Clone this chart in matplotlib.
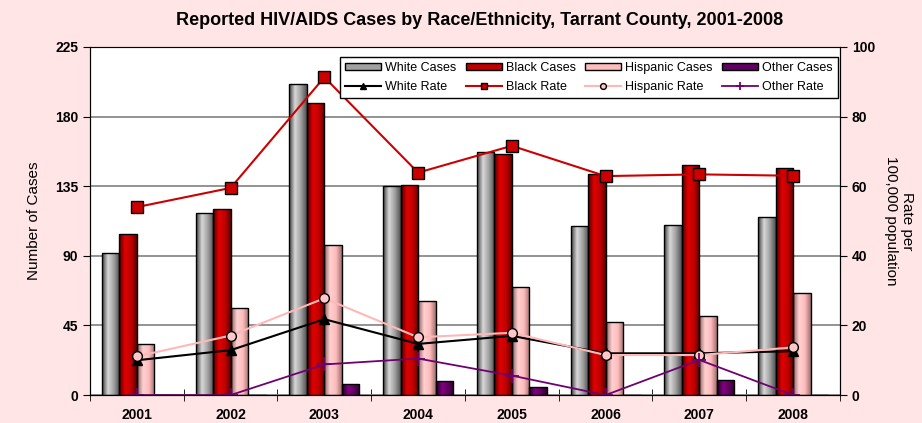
import matplotlib.pyplot as plt
import numpy as np
from matplotlib.colors import LinearSegmentedColormap
from matplotlib.patches import Patch

plt.rcParams["font.family"] = ["Liberation Sans", "DejaVu Sans"]

years = ["2001", "2002", "2003", "2004", "2005", "2006", "2007", "2008"]

white_cases = [92, 118, 201, 135, 157, 109, 110, 115]
black_cases = [104, 120, 189, 136, 156, 143, 149, 147]
hispanic_cases = [33, 56, 97, 61, 70, 47, 51, 66]
other_cases = [0, 0, 7, 9, 5, 0, 10, 0]

white_rate = [10.0, 12.9, 21.8, 14.7, 17.0, 12.0, 12.0, 12.6]
black_rate = [54.0, 59.5, 91.3, 63.9, 71.6, 62.9, 63.4, 63.0]
hispanic_rate = [11.1, 17.1, 27.8, 16.6, 17.9, 11.5, 11.5, 13.7]
other_rate = [0, 0, 8.8, 10.5, 5.6, 0, 10.1, 0]

# bar gradients: dark edge -> light -> dark edge
bar_styles = [
    ("White Cases", white_cases, ["#404040", "#d8d8d8", "#a0a0a0", "#505050"]),
    ("Black Cases", black_cases, ["#500000", "#e00000", "#c00000", "#600000"]),
    ("Hispanic Cases", hispanic_cases, ["#906060", "#ffd0d0", "#ffbcbc", "#a07070"]),
    ("Other Cases", other_cases, ["#200020", "#800080", "#600060", "#300030"]),
]

fig = plt.figure(figsize=(9.22, 4.23), dpi=100, facecolor="#ffe5e5")
ax = fig.add_axes([0.0976, 0.066, 0.8134, 0.823])
ax.set_facecolor("white")

x = np.arange(len(years))
width = 0.187
grad = np.linspace(0, 1, 64).reshape(1, -1)

legend_bars = []
for i, (label, vals, cols) in enumerate(bar_styles):
    cmap = LinearSegmentedColormap.from_list(label, cols)
    offset = (i - 1.5) * width
    bars = ax.bar(x + offset, vals, width, facecolor="none", edgecolor="black",
                  linewidth=1.0, zorder=3)
    for b in bars:
        if b.get_height() <= 0:
            continue
        im = ax.imshow(grad, extent=[b.get_x(), b.get_x() + b.get_width(), 0, b.get_height()],
                       aspect="auto", cmap=cmap, zorder=2, interpolation="bilinear")
        im.set_clip_path(b)
    legend_bars.append(Patch(facecolor=cols[2], edgecolor="black", label=label))

ax.set_xlim(-0.5, len(years) - 0.5)
ax.set_ylim(0, 225)
ax.set_yticks(np.arange(0, 226, 45))
ax.set_xticks(x)
ax.set_xticklabels(years, fontweight="bold", fontsize=10)
ax.set_xticks(np.arange(-0.5, len(years), 1), minor=True)
ax.tick_params(axis="x", which="major", length=0, pad=9)
ax.tick_params(axis="x", which="minor", length=8, direction="inout")
ax.tick_params(axis="y", direction="out", length=5, labelsize=10)
for t in ax.get_yticklabels():
    t.set_fontweight("bold")
ax.yaxis.grid(True, color="#808080", linewidth=1.2, zorder=0)
ax.set_axisbelow(True)
ax.set_ylabel("Number of Cases", fontsize=11, labelpad=10)
ax.spines["top"].set_color("#808080")

ax2 = ax.twinx()
ax2.set_ylim(0, 100)
ax2.set_yticks(np.arange(0, 101, 20))
ax2.tick_params(axis="y", direction="out", length=5, labelsize=10)
for t in ax2.get_yticklabels():
    t.set_fontweight("bold")
ax2.set_ylabel("Rate per\n100,000 population", rotation=270, fontsize=11, labelpad=28)

l1, = ax2.plot(x, white_rate, color="black", lw=1.5, marker="^", ms=7,
               mfc="black", mec="black", label="White Rate")
l2, = ax2.plot(x, black_rate, color="#cc0000", lw=1.5, marker="s", ms=8,
               mfc="#cc0000", mec="black", label="Black Rate")
l3, = ax2.plot(x, hispanic_rate, color="#ffb8b8", lw=1.5, marker="o", ms=7,
               mfc="#ffc8c8", mec="black", label="Hispanic Rate")
l4, = ax2.plot(x, other_rate, color="#700070", lw=1.3, marker="+", ms=10,
               mew=1.3, label="Other Rate")

handles = [legend_bars[0], l1, legend_bars[1], l2, legend_bars[2], l3, legend_bars[3], l4]
leg = ax2.legend(handles=handles, ncol=4, loc="upper left",
                 bbox_to_anchor=(0.333, 0.972, 0.664, 0.0), mode="expand",
                 fontsize=9, frameon=True, fancybox=False, edgecolor="black",
                 framealpha=1, borderaxespad=0, columnspacing=0.3, handletextpad=0.3,
                 handlelength=2.9, handleheight=0.55, labelspacing=0.62,
                 markerscale=0.6, borderpad=0.4)
leg.get_frame().set_linewidth(1.0)

fig.text(0.52, 0.952, "Reported HIV/AIDS Cases by Race/Ethnicity, Tarrant County, 2001-2008",
         fontsize=13, fontweight="bold", ha="center", va="center")

fig.savefig("out.png", dpi=100, facecolor=fig.get_facecolor())
